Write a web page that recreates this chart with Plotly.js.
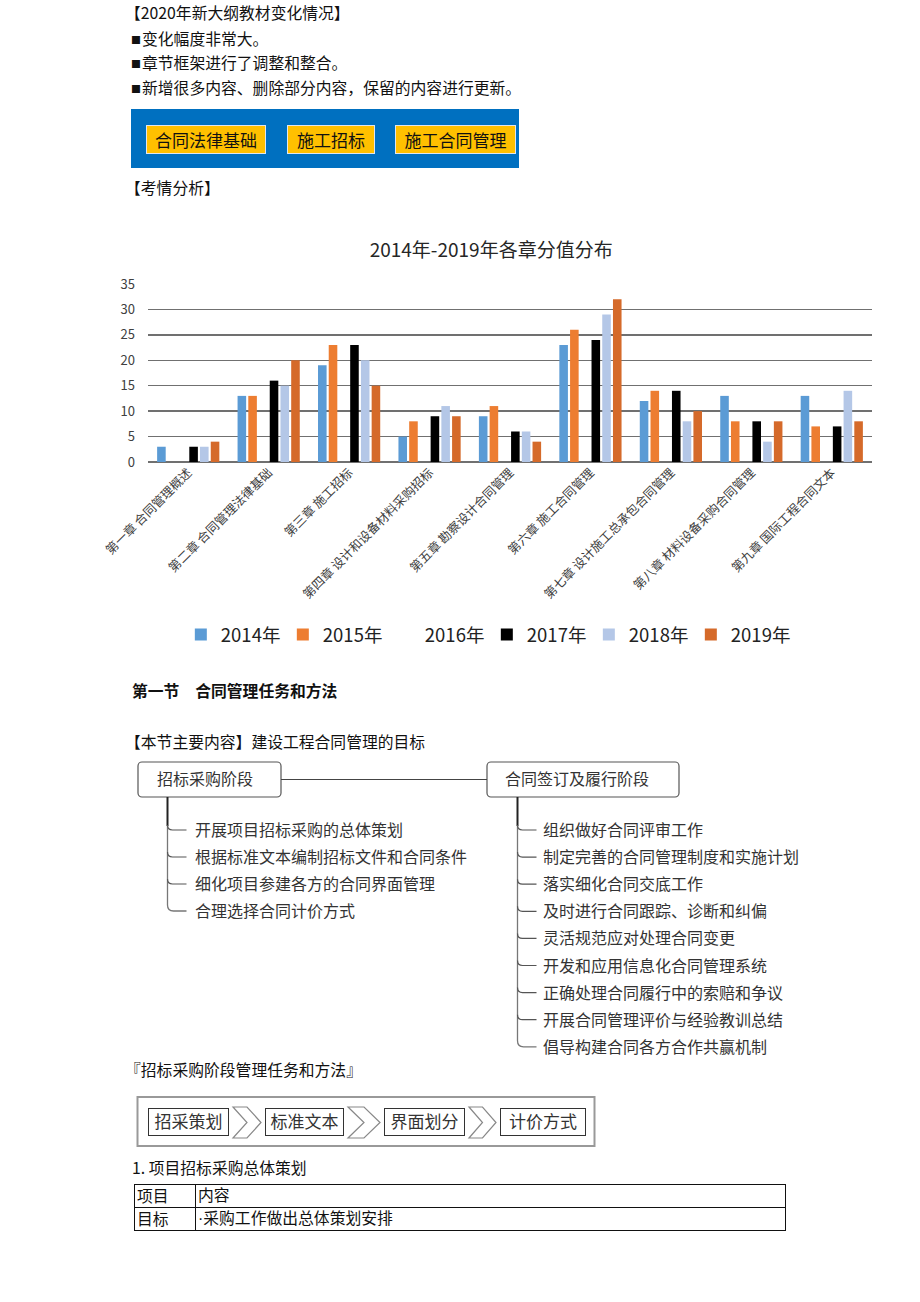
<!DOCTYPE html>
<html>
<head>
<meta charset="utf-8">
<script src="https://cdn.plot.ly/plotly-3.0.1.min.js"></script>
<style>
  body { margin: 0; background: #fff; }
  #page {
    position: relative; width: 920px; height: 1302px; overflow: hidden;
    font-family: "Noto Sans CJK SC", sans-serif; color: #111;
  }
  .t { position: absolute; white-space: nowrap; font-size: 15.8px; line-height: 22px; }
  .sq { font-size: 10px; vertical-align: 1px; margin-right: 1px; }
  .blue { position: absolute; left: 131px; top: 109px; width: 388px; height: 59px; background: #0070C0; }
  .btn {
    position: absolute; top: 125px; height: 27px; background: #FFC000;
    border: 1.5px solid #dfe6f0; font-size: 17px; line-height: 27px; text-align: center; color: #111;
  }
  #chart { position: absolute; left: 0; top: 225px; width: 920px; height: 440px; }
  #diagram { position: absolute; left: 0; top: 0; }
  table.tb {
    position: absolute; left: 134px; top: 1184px; width: 652px;
    border-collapse: collapse; font-size: 15.8px;
  }
  table.tb td { border: 1.5px solid #111; height: 22px; padding: 0 0 0 2px; line-height: 22px; }
  table.tb td.c { font-family: "Liberation Sans", "Noto Sans CJK SC", sans-serif; }
</style>
</head>
<body>
<div id="page">
  <div class="blue"></div>
  <div id="chart"></div>
  <svg id="diagram" width="920" height="1302"></svg>
</div>
<script>
// ---- 文本内容 ----
const introLines = [
  "【2020年新大纲教材变化情况】",
  "■变化幅度非常大。",
  "■章节框架进行了调整和整合。",
  "■新增很多内容、删除部分内容，保留的内容进行更新。"
];
const buttons = ["合同法律基础", "施工招标", "施工合同管理"];

// ---- 图表数据 ----
const chapters = [
  "第一章 合同管理概述",
  "第二章 合同管理法律基础",
  "第三章 施工招标",
  "第四章 设计和设备材料采购招标",
  "第五章 勘察设计合同管理",
  "第六章 施工合同管理",
  "第七章 设计施工总承包合同管理",
  "第八章 材料设备采购合同管理",
  "第九章 国际工程合同文本"
];
const years = ["2014年", "2015年", "2016年", "2017年", "2018年", "2019年"];
const y2014 = [3, 13, 19, 5, 9, 23, 12, 13, 13];
const y2015 = [0, 13, 23, 8, 11, 26, 14, 8, 7];
const y2016 = [null, null, null, null, null, null, null, null, null];
const y2017 = [3, 16, 23, 9, 6, 24, 14, 8, 7];
const y2018 = [3, 15, 20, 11, 6, 29, 8, 4, 14];
const y2019 = [4, 20, 15, 9, 4, 32, 10, 8, 8];
const seriesValues = [y2014, y2015, y2016, y2017, y2018, y2019];
const seriesColors = ["#5B9BD5", "#ED7D31", "rgba(0,0,0,0)", "#000000", "#B4C7E7", "#D56A2A"];

// ---- 思维导图 ----
const stageLeft = "招标采购阶段";
const stageRight = "合同签订及履行阶段";
const leftItems = [
  "开展项目招标采购的总体策划",
  "根据标准文本编制招标文件和合同条件",
  "细化项目参建各方的合同界面管理",
  "合理选择合同计价方式"
];
const rightItems = [
  "组织做好合同评审工作",
  "制定完善的合同管理制度和实施计划",
  "落实细化合同交底工作",
  "及时进行合同跟踪、诊断和纠偏",
  "灵活规范应对处理合同变更",
  "开发和应用信息化合同管理系统",
  "正确处理合同履行中的索赔和争议",
  "开展合同管理评价与经验教训总结",
  "倡导构建合同各方合作共赢机制"
];
const steps = ["招采策划", "标准文本", "界面划分", "计价方式"];
const tableRows = [["项目", "内容"], ["目标", "·采购工作做出总体策划安排"]];

const page = document.getElementById("page");

function addText(str, x, yc, extra) {
  const d = document.createElement("div");
  d.className = "t";
  d.style.left = x + "px";
  d.style.top = (yc - 11) + "px";
  if (extra) Object.assign(d.style, extra);
  if (str.startsWith("■")) {
    d.innerHTML = '<span class="sq">■</span>';
    d.appendChild(document.createTextNode(str.slice(1)));
  } else {
    d.textContent = str;
  }
  page.appendChild(d);
}

// 顶部文字
const introY = [13, 39, 63, 88];
introLines.forEach((s, i) => addText(s, i === 0 ? 125 : 131, introY[i]));

// 蓝色按钮
const btnX = [146, 287, 395];
const btnW = [118, 86, 119];
buttons.forEach((s, i) => {
  const b = document.createElement("div");
  b.className = "btn";
  b.style.left = btnX[i] + "px";
  b.style.width = btnW[i] + "px";
  b.textContent = s;
  page.appendChild(b);
});

addText("【考情分析】", 125, 188);
addText("第一节　合同管理任务和方法", 132, 691, { fontWeight: "bold" });
addText("【本节主要内容】建设工程合同管理的目标", 125, 742);
addText("『招标采购阶段管理任务和方法』", 125, 1070);
addText("1. 项目招标采购总体策划", 132, 1168);

// 表格
const tb = document.createElement("table");
tb.className = "tb";
tableRows.forEach((r) => {
  const tr = document.createElement("tr");
  r.forEach((c, j) => {
    const td = document.createElement("td");
    td.textContent = c;
    if (j === 0) td.style.width = "58px";
    else td.className = "c";
    tr.appendChild(td);
  });
  tb.appendChild(tr);
});
page.appendChild(tb);

// ---- SVG 图形 ----
const svg = document.getElementById("diagram");
const NS = "http://www.w3.org/2000/svg";
function el(tag, attrs, text) {
  const e = document.createElementNS(NS, tag);
  for (const k in attrs) e.setAttribute(k, attrs[k]);
  if (text) e.textContent = text;
  svg.appendChild(e);
  return e;
}
const svgFont = '"Noto Sans CJK SC", sans-serif';

// 阶段框
el("rect", { x: 138, y: 762, width: 143, height: 35, rx: 4, fill: "#fff", stroke: "#555", "stroke-width": 1.2 });
el("rect", { x: 487, y: 762, width: 192, height: 35, rx: 4, fill: "#fff", stroke: "#555", "stroke-width": 1.2 });
el("line", { x1: 281, y1: 779.5, x2: 487, y2: 779.5, stroke: "#444", "stroke-width": 1.2 });
el("text", { x: 157, y: 785, "font-size": 16, fill: "#333", "font-family": svgFont }, stageLeft);
el("text", { x: 505, y: 785, "font-size": 16, fill: "#333", "font-family": svgFont }, stageRight);

function drawTree(items, x0, textX, yStart, yFirst, step) {
  const ys = items.map((_, i) => yFirst + i * step);
  const last = ys[ys.length - 1];
  el("line", { x1: x0, y1: yStart, x2: x0, y2: ys[0] - 4, stroke: "#222", "stroke-width": 2 });
  el("path", {
    d: `M${x0} ${ys[0] - 4} L${x0} ${last - 6} Q${x0} ${last} ${x0 + 6} ${last} L${x0 + 19} ${last}`,
    fill: "none", stroke: "#777", "stroke-width": 1.3
  });
  ys.forEach((y, i) => {
    if (i < ys.length - 1) {
      el("path", {
        d: `M${x0} ${y - 5} Q${x0} ${y} ${x0 + 5} ${y} L${x0 + 19} ${y}`,
        fill: "none", stroke: "#555", "stroke-width": 1.2
      });
    }
    el("text", { x: textX, y: y + 6, "font-size": 16, fill: "#333", "font-family": svgFont }, items[i]);
  });
}
drawTree(leftItems, 167.5, 195, 797, 830, 27);
drawTree(rightItems, 517.5, 543, 797, 830, 27.1);

// 流程框
el("rect", { x: 137.5, y: 1097, width: 457, height: 49, fill: "#fff", stroke: "#999", "stroke-width": 2 });
const stepX = [148, 265, 384, 500];
const stepW = [80, 78, 80, 85];
steps.forEach((s, i) => {
  el("rect", { x: stepX[i] + 0.5, y: 1108.5, width: stepW[i], height: 27, fill: "#fff", stroke: "#333", "stroke-width": 1 });
  el("text", {
    x: stepX[i] + stepW[i] / 2 + 0.5, y: 1128, "font-size": 17, fill: "#333",
    "text-anchor": "middle", "font-family": svgFont
  }, s);
  if (i < steps.length - 1) {
    const cx = stepX[i] + stepW[i] + 5;
    const nx = stepX[i + 1] - 4;
    const w = nx - cx;
    const pts = [
      [cx, 1107], [cx + w * 0.5, 1107], [nx, 1122.5], [cx + w * 0.5, 1138], [cx, 1138], [cx + w * 0.5, 1122.5]
    ].map((p) => p.join(",")).join(" ");
    el("polygon", { points: pts, fill: "#fff", stroke: "#888", "stroke-width": 1.2 });
  }
});

// ---- Plotly 柱状图 ----
const traces = years.map((name, i) => ({
  type: "bar",
  name: name,
  x: chapters,
  y: seriesValues[i],
  marker: { color: seriesColors[i] },
  hoverinfo: "none"
}));

const layout = {
  width: 920,
  height: 440,
  margin: { l: 148, r: 48, t: 59, b: 202 },
  paper_bgcolor: "rgba(0,0,0,0)",
  plot_bgcolor: "rgba(0,0,0,0)",
  barmode: "group",
  bargap: 0.2,
  bargroupgap: 0.2,
  font: { family: '"Noto Sans CJK SC", sans-serif', color: "#404040" },
  title: {
    text: "2014年-2019年各章分值分布",
    font: { size: 19, color: "#262626" },
    x: 0.474, xref: "paper", xanchor: "center",
    y: 1 - 25 / 440, yref: "container", yanchor: "middle"
  },
  xaxis: {
    type: "category",
    tickangle: -45,
    tickfont: { size: 12.5, color: "#404040" },
    showgrid: false, showline: false, ticks: "",
    automargin: false
  },
  yaxis: {
    range: [0, 35], tick0: 0, dtick: 5,
    showgrid: true, gridcolor: "#707070", gridwidth: 1.5,
    zeroline: true, zerolinecolor: "#707070", zerolinewidth: 1.5,
    tickfont: { size: 13, color: "#404040" },
    ticklabelstandoff: 12,
    automargin: false
  },
  legend: {
    orientation: "h",
    x: 0.468, xanchor: "center",
    y: -0.961, yanchor: "middle",
    font: { size: 18.5, color: "#222" },
    entrywidth: 57, entrywidthmode: "pixels",
    itemwidth: 30
  }
};

Plotly.newPlot("chart", traces, layout, { staticPlot: true, displayModeBar: false });
</script>
</body>
</html>
